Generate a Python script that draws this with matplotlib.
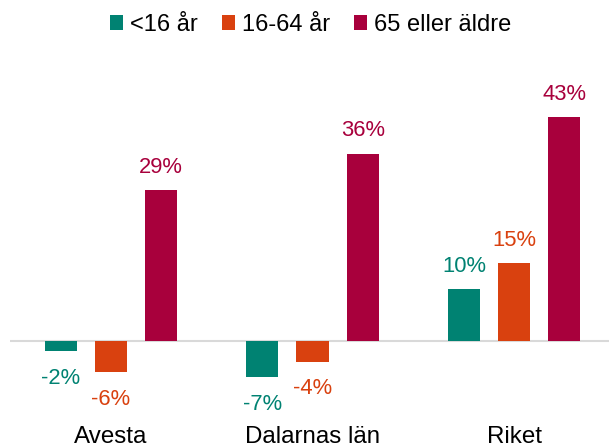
import matplotlib.pyplot as plt
import numpy as np

plt.rcParams['font.family'] = ['Liberation Sans', 'DejaVu Sans']

categories = ['Avesta', 'Dalarnas län', 'Riket']
series_names = ['<16 år', '16-64 år', '65 eller äldre']
under_16 = [-2, -7, 10]
age_16_64 = [-6, -4, 15]
over_65 = [29, 36, 43]
colors = ['#008272', '#D9410F', '#A8003C']

fig = plt.figure(figsize=(6.09, 4.48), dpi=100)
ax = fig.add_axes([10 / 609, 1 - 420 / 448, 1 - 10 / 609, 360 / 448])

x = np.arange(len(categories))
step = 0.249
width = 0.159
for i, (vals, name, c) in enumerate(zip([under_16, age_16_64, over_65], series_names, colors)):
    pos = x + (i - 1) * step
    bars = ax.bar(pos, vals, width=width, color=c, label=name)
    for b, v in zip(bars, vals):
        if v >= 0:
            ax.annotate(f'{v}%', (b.get_x() + b.get_width() / 2, v), xytext=(0, 9),
                        textcoords='offset points', ha='center', va='bottom',
                        color=c, fontsize=15.8)
        else:
            ax.annotate(f'{v}%', (b.get_x() + b.get_width() / 2, v), xytext=(0, -12),
                        textcoords='offset points', ha='center', va='top',
                        color=c, fontsize=15.8)

ax.axhline(0, color='#D9D9D9', linewidth=1.5, zorder=0)
ax.set_xlim(-0.5, 2.47)
ax.set_ylim(-15.19, 54.04)
ax.set_xticks(x)
ax.set_xticklabels(categories, fontsize=17.4)
ax.tick_params(axis='x', length=0, pad=4)
ax.set_yticks([])
for s in ax.spines.values():
    s.set_visible(False)

fig.legend(loc='upper center', bbox_to_anchor=(0.51, 0.99), ncol=3, frameon=False,
           fontsize=17, handlelength=0.55, handleheight=0.55, handletextpad=0.3,
           columnspacing=1.0, borderaxespad=0.0)

plt.savefig('out.png', dpi=100)
